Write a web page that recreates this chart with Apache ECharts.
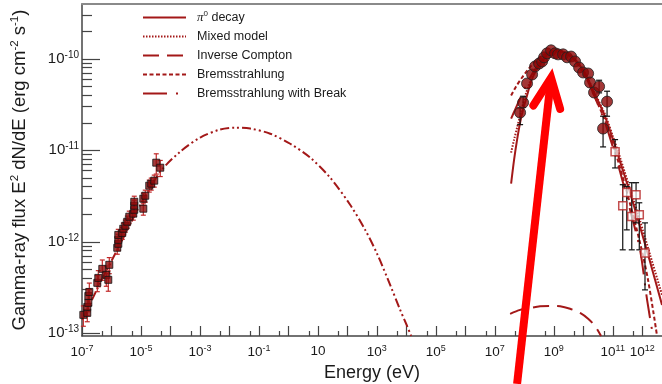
<!DOCTYPE html>
<html>
<head>
<meta charset="utf-8">
<script src="https://cdn.jsdelivr.net/npm/echarts@6/dist/echarts.min.js"></script>
<style>
  html, body { margin: 0; padding: 0; background: #fff; }
  #chart { width: 662px; height: 384px; }
</style>
</head>
<body>
<div id="chart"></div>
<script>
// ---- Spectral energy distribution: energies in eV, E^2 dN/dE in erg cm^-2 s^-1 ----

// Low-energy (radio / optical) data points, red squares
const optE = [1.11e-7, 1.51e-7, 1.51e-7, 1.64e-7, 1.64e-7, 1.77e-7, 3.30e-7, 3.57e-7, 4.88e-7, 6.67e-7,
              7.79e-7, 8.42e-7, 1.57e-6, 1.70e-6, 1.70e-6, 1.70e-6, 2.32e-6, 2.51e-6, 2.94e-6, 3.43e-6,
              4.01e-6, 5.48e-6, 5.93e-6, 5.93e-6, 5.93e-6, 1.20e-5, 1.20e-5, 1.40e-5, 1.91e-5, 2.23e-5,
              2.82e-5, 3.30e-5, 4.51e-5];
const optF = [1.59e-13, 1.67e-13, 1.94e-13, 2.15e-13, 2.56e-13, 2.83e-13, 3.56e-13, 4.03e-13, 5.06e-13, 4.35e-13,
              3.84e-13, 5.60e-13, 8.60e-13, 9.51e-13, 1.05e-12, 1.19e-12, 1.25e-12, 1.39e-12, 1.50e-12, 1.66e-12,
              1.88e-12, 2.03e-12, 2.24e-12, 2.48e-12, 2.74e-12, 2.30e-12, 2.96e-12, 3.19e-12, 4.11e-12, 4.32e-12,
              4.66e-12, 7.33e-12, 6.46e-12];
const optErr = [0.25, 0.2, 0.2, 0.2, 0.2, 0.25, 0.2, 0.2, 0.25, 0.25,
                0.25, 0.2, 0.15, 0.15, 0.15, 0.15, 0.15, 0.15, 0.15, 0.15,
                0.15, 0.15, 0.15, 0.15, 0.15, 0.15, 0.15, 0.15, 0.15, 0.15,
                0.15, 0.25, 0.2];

// GeV data points, filled circles
const latE = [7.21e7, 9.10e7, 1.24e8, 1.84e8, 2.32e8, 3.18e8, 4.01e8, 4.69e8, 5.93e8, 8.09e8,
              1.11e9, 1.40e9, 2.07e9, 2.82e9, 3.86e9, 5.27e9, 7.21e9, 9.84e9, 1.46e10, 1.70e10,
              2.32e10, 3.44e10, 4.69e10, 6.41e10];
const latF = [2.59e-11, 3.33e-11, 5.38e-11, 6.75e-11, 8.26e-11, 8.90e-11, 9.37e-11, 1.04e-10, 1.15e-10, 1.24e-10,
              1.15e-10, 1.12e-10, 1.12e-10, 1.04e-10, 1.06e-10, 9.37e-11, 8.05e-11, 7.10e-11, 6.92e-11, 5.51e-11,
              4.29e-11, 4.99e-11, 1.73e-11, 3.41e-11];
const latLo = [1.91e-11, 2.94e-11, null, null, null, null, null, null, null, null,
               null, null, null, null, null, null, null, null, null, null,
               null, 4.25e-11, 1.09e-11, 2.36e-11];
const latHi = [2.90e-11, 3.90e-11, null, null, null, null, null, null, null, null,
               null, null, null, null, null, null, null, null, null, null,
               null, 5.84e-11, 2.36e-11, 4.43e-11];

// TeV data points, open squares
const tevE  = [1.20e11, 2.18e11, 2.99e11, 4.41e11, 6.17e11, 7.94e11, 1.24e12];
const tevF  = [9.68e-12, 2.48e-12, 3.47e-12, 1.89e-12, 3.27e-12, 1.98e-12, 7.52e-13];
const tevLo = [6.42e-12, 8.17e-13, 1.35e-12, 8.17e-13, 1.61e-12, 8.17e-13, 2.98e-13];
const tevHi = [1.31e-11, 4.21e-12, 4.03e-12, 4.43e-12, 4.43e-12, 2.67e-12, 1.61e-12];

// Model curves
const synchE = [1.02e-7, 4.17e-7, 1.99e-6, 9.46e-6, 4.51e-5, 2.15e-4, 1.02e-3, 4.88e-3, 1.57e-2, 5.07e-2,
                0.242, 1.15, 5.48, 26.1, 124, 401, 1.02e3, 2.82e3, 6.17e3, 1.06e4, 1.46e4];
const synchF = [1.40e-13, 3.56e-13, 9.51e-13, 2.54e-12, 5.84e-12, 9.68e-12, 1.38e-11, 1.69e-11, 1.77e-11, 1.73e-11,
                1.52e-11, 1.18e-11, 8.32e-12, 5.02e-12, 2.54e-12, 1.35e-12, 7.39e-13, 3.38e-13, 1.80e-13, 1.20e-13, 9.34e-14];

const pionE = [3.57e7, 4.51e7, 5.70e7, 7.21e7, 9.10e7, 1.24e8, 1.70e8, 2.51e8, 5.07e8, 8.75e8,
               1.64e9, 3.05e9, 5.27e9, 1.15e10, 2.51e10, 5.48e10, 1.02e11, 1.77e11, 3.85e11, 8.41e11, 1.84e12, 4.69e12];
const pionF = [4.32e-12, 7.91e-12, 1.31e-11, 2.01e-11, 2.79e-11, 3.97e-11, 5.66e-11, 7.46e-11, 1.04e-10, 1.21e-10,
               1.21e-10, 1.12e-10, 9.85e-11, 6.92e-11, 4.07e-11, 2.34e-11, 1.31e-11, 7.52e-12, 3.44e-12, 1.46e-12, 6.04e-13, 2.04e-13];

const mixedE = [3.57e7, 4.51e7, 5.70e7, 7.80e7, 1.06e8, 1.57e8, 2.51e8, 5.07e8, 8.75e8,
                1.64e9, 3.05e9, 5.27e9, 1.15e10, 2.51e10, 5.48e10, 1.02e11, 1.77e11, 3.85e11, 8.41e11, 1.84e12, 4.69e12];
const mixedF = [9.44e-12, 1.31e-11, 1.77e-11, 2.65e-11, 3.87e-11, 5.66e-11, 7.65e-11, 1.04e-10, 1.21e-10,
                1.21e-10, 1.12e-10, 9.85e-11, 6.92e-11, 4.18e-11, 2.46e-11, 1.41e-11, 8.32e-12, 3.80e-12, 1.70e-12, 7.21e-13, 2.63e-13];

const icE = [3.30e7, 7.21e7, 1.57e8, 3.43e8, 7.50e8, 1.64e9, 3.57e9, 7.80e9, 1.46e10, 2.51e10, 4.01e10];
const icF = [1.63e-13, 1.80e-13, 1.89e-13, 1.97e-13, 1.99e-13, 1.97e-13, 1.85e-13, 1.67e-13, 1.44e-13, 1.20e-13, 9.34e-14];

const bremE = [3.57e7, 5.27e7, 8.41e7, 1.35e8, 2.32e8, 4.34e8, 8.75e8, 1.64e9, 3.05e9, 5.27e9,
               1.15e10, 2.51e10, 5.48e10, 1.02e11, 1.77e11, 3.85e11, 8.41e11, 1.57e12, 3.18e12];
const bremF = [3.97e-11, 4.99e-11, 6.25e-11, 7.65e-11, 9.37e-11, 1.09e-10, 1.21e-10, 1.21e-10, 1.12e-10, 9.60e-11,
               6.58e-11, 3.78e-11, 2.11e-11, 1.15e-11, 6.46e-12, 2.61e-12, 9.75e-13, 3.84e-13, 9.34e-14];

const bremBreakE = [3.57e7, 4.88e7, 6.67e7, 9.84e7, 1.57e8, 2.72e8, 5.07e8, 8.75e8, 1.64e9, 3.05e9,
                    5.27e9, 1.15e10, 2.51e10, 5.48e10, 1.02e11, 1.77e11, 3.85e11, 8.41e11, 1.46e12, 2.32e12];
const bremBreakF = [2.22e-11, 2.79e-11, 3.50e-11, 4.62e-11, 6.25e-11, 8.26e-11, 1.04e-10, 1.21e-10, 1.21e-10, 1.12e-10,
                    9.60e-11, 6.58e-11, 3.78e-11, 2.01e-11, 1.07e-11, 5.84e-12, 2.24e-12, 8.17e-13, 2.32e-13, 9.34e-14];

// Axis tick labels (decade exponents)
const xLabelExps = [-7, -5, -3, -1, 1, 3, 5, 7, 9, 11, 12];
const yLabelExps = [-13, -12, -11, -10];

// Annotation arrow pointing at the GeV peak (energy, flux)
const arrowTail  = [5.70e7, 2.8e-14];
const arrowTip   = [8.09e8, 6.21e-11];
const arrowWings = [[2.03e8, 3.09e-11], [1.64e9, 2.84e-11]];

// ---- chart ----
const L = Math.log10;
const X_MIN = -7, X_MAX = 12.67, Y_MIN = -13.03, Y_MAX = -9.40;
const RED = '#a31818';
const FONT = 'Liberation Sans, Arial, sans-serif';

const pts = (E, F) => E.map((e, i) => [L(e), L(F[i])]);
const bars = (E, lo, hi) => E.map((e, i) => lo[i] == null ? null : [L(e), L(lo[i]), L(hi[i])]).filter(Boolean);

const xMajor = []; for (let n = -7; n <= 12; n++) xMajor.push(n);
const xMinor = []; for (let n = -7; n <= 12; n++) { const v = n + L(5); if (v < X_MAX) xMinor.push(v); }
const yMinor = []; for (let n = -13; n <= -10; n++) for (let k = 2; k <= 9; k++) { const v = n + L(k); if (v < Y_MAX - 0.005) yMinor.push(v); }

const supLabel = (base, sup) => ({
  b: { fontSize: base, fontFamily: FONT, color: '#1a1a1a' },
  s: { fontSize: sup, fontFamily: FONT, color: '#1a1a1a', padding: [0, 0, Math.round(base * 0.55), 0] }
});
const expText = n => n === 1 ? '{b|10}' : '{b|10}{s|' + n + '}';

function errorBars(color, cap) {
  return function (params, api) {
    const x = api.value(0);
    const p1 = api.coord([x, api.value(1)]);
    const p2 = api.coord([x, api.value(2)]);
    const st = { stroke: color, lineWidth: 1.2 };
    return {
      type: 'group',
      children: [
        { type: 'line', shape: { x1: p1[0], y1: p1[1], x2: p2[0], y2: p2[1] }, style: st },
        { type: 'line', shape: { x1: p1[0] - cap, y1: p1[1], x2: p1[0] + cap, y2: p1[1] }, style: st },
        { type: 'line', shape: { x1: p2[0] - cap, y1: p2[1], x2: p2[0] + cap, y2: p2[1] }, style: st }
      ]
    };
  };
}

const curve = (name, E, F, type, extra) => Object.assign({
  name, type: 'line', data: pts(E, F), symbol: 'none', smooth: 0.3, clip: true,
  lineStyle: { color: RED, width: 2, type: type }, itemStyle: { color: RED }, z: 3, silent: true
}, extra || {});

const hiddenAxisLine = { show: false, onZero: false };

const chart = echarts.init(document.getElementById('chart'), null, { renderer: 'canvas' });

const option = {
  animation: false,
  backgroundColor: '#fff',
  grid: { left: 82, right: 0, top: 4, bottom: 48, containLabel: false, outerBoundsMode: 'none' },
  legend: {
    orient: 'vertical', left: 142, top: 10, padding: 0,
    itemWidth: 43, itemHeight: 14, itemGap: 6,
    itemStyle: { opacity: 0 },
    data: ['pi0', 'Mixed model', 'Inverse Compton', 'Bremsstrahlung', 'Bremsstrahlung with Break'],
    formatter: name => name === 'pi0' ? '{p|\u03c0}{z|0}{t| decay}' : '{t|' + name + '}',
    textStyle: {
      color: '#1a1a1a', fontFamily: FONT, fontSize: 12.5, padding: [0, 0, 0, 6],
      rich: {
        t: { fontFamily: FONT, fontSize: 12.5, color: '#1a1a1a' },
        p: { fontFamily: 'Liberation Serif, serif', fontStyle: 'italic', fontSize: 13, color: '#1a1a1a' },
        z: { fontFamily: FONT, fontSize: 8, color: '#1a1a1a', padding: [0, 0, 7, 0] }
      }
    },
    selectedMode: false
  },
  xAxis: [
    {
      type: 'value', min: X_MIN, max: X_MAX, position: 'bottom',
      axisLine: { show: true, onZero: false, lineStyle: { color: '#444', width: 1.5 } },
      axisTick: { show: true, inside: true, length: 10, customValues: xMajor, lineStyle: { color: '#444', width: 1.2 } },
      axisLabel: { show: true, customValues: xLabelExps, margin: 8, formatter: v => expText(Math.round(v)), rich: supLabel(13.5, 9) },
      splitLine: { show: false },
      name: 'Energy (eV)', nameLocation: 'middle', nameGap: 27,
      nameTextStyle: { fontFamily: FONT, fontSize: 18, color: '#1a1a1a' }
    },
    {
      type: 'value', min: X_MIN, max: X_MAX, position: 'bottom',
      axisLine: hiddenAxisLine,
      axisTick: { show: true, inside: true, length: 5, customValues: xMinor, lineStyle: { color: '#444', width: 1.2 } },
      axisLabel: { show: false }, splitLine: { show: false }
    },
    {
      type: 'value', min: X_MIN, max: X_MAX, position: 'top',
      axisLine: { show: true, onZero: false, lineStyle: { color: '#8a8a8a', width: 2 } },
      axisTick: { show: false }, axisLabel: { show: false }, splitLine: { show: false }
    }
  ],
  yAxis: [
    {
      type: 'value', min: Y_MIN, max: Y_MAX, position: 'left',
      axisLine: { show: true, onZero: false, lineStyle: { color: '#444', width: 1.5 } },
      axisTick: { show: true, inside: true, length: 18, customValues: yLabelExps, lineStyle: { color: '#444', width: 1.2 } },
      axisLabel: { show: true, customValues: yLabelExps, margin: 3, formatter: v => expText(Math.round(v)), rich: supLabel(15, 10) },
      splitLine: { show: false },
      name: '{t|Gamma-ray flux E}{s|2}{t| dN/dE (erg cm}{s|-2}{t| s}{s|-1}{t|)}',
      nameLocation: 'middle', nameGap: 52, nameRotate: 90,
      nameTextStyle: {
        rich: {
          t: { fontFamily: FONT, fontSize: 18.5, color: '#1a1a1a' },
          s: { fontFamily: FONT, fontSize: 11.5, color: '#1a1a1a', padding: [0, 0, 9, 0] }
        }
      }
    },
    {
      type: 'value', min: Y_MIN, max: Y_MAX, position: 'left',
      axisLine: hiddenAxisLine,
      axisTick: { show: true, inside: true, length: 10, customValues: yMinor, lineStyle: { color: '#444', width: 1.2 } },
      axisLabel: { show: false }, splitLine: { show: false }
    }
  ],
  series: [
    curve('Synchrotron', synchE, synchF, [9, 3, 2, 3, 2, 3]),
    curve('pi0', pionE, pionF, 'solid'),
    curve('Mixed model', mixedE, mixedF, [1.5, 1.5]),
    curve('Inverse Compton', icE, icF, [16, 8]),
    curve('Bremsstrahlung', bremE, bremF, [4, 2.5]),
    curve('Bremsstrahlung with Break', bremBreakE, bremBreakF, [24, 9, 2, 9]),
    {
      name: 'optErr', type: 'custom', renderItem: errorBars('#c02828', 2.5), z: 4, silent: true,
      data: optE.map((e, i) => [L(e), L(optF[i] * (1 - optErr[i])), L(optF[i] * (1 + optErr[i]))])
    },
    {
      name: 'Optical', type: 'scatter', data: pts(optE, optF), symbol: 'rect', symbolSize: 7, z: 5, silent: true,
      itemStyle: { color: '#8c0b0b', borderColor: '#111', borderWidth: 1 }
    },
    {
      name: 'latErr', type: 'custom', renderItem: errorBars('#111', 3), z: 4, silent: true,
      data: bars(latE, latLo, latHi)
    },
    {
      name: 'GeV', type: 'scatter', data: pts(latE, latF), symbol: 'circle', symbolSize: 11, z: 6, silent: true,
      itemStyle: { color: '#8c0505', borderColor: '#222', borderWidth: 1 }
    },
    {
      name: 'tevErr', type: 'custom', renderItem: errorBars('#111', 3), z: 4, silent: true,
      data: bars(tevE, tevLo, tevHi)
    },
    {
      name: 'TeV', type: 'scatter', data: pts(tevE, tevF), symbol: 'rect', symbolSize: 8, z: 6, silent: true,
      itemStyle: { color: 'rgba(255,255,255,0.85)', borderColor: '#b42222', borderWidth: 1.5 }
    }
  ]
};

chart.setOption(option);

// Red annotation arrow placed through the data coordinate system
(function drawArrow() {
  const p = v => chart.convertToPixel({ xAxisIndex: 0, yAxisIndex: 0 }, [L(v[0]), L(v[1])]);
  const tail = p(arrowTail), tip = p(arrowTip), w1 = p(arrowWings[0]), w2 = p(arrowWings[1]);
  chart.setOption({
    graphic: [
      { type: 'polyline', z: 100, shape: { points: [tail, tip] },
        style: { stroke: '#ff0000', lineWidth: 8, lineCap: 'butt', fill: null } },
      { type: 'polyline', z: 100, shape: { points: [w1, tip, w2] },
        style: { stroke: '#ff0000', lineWidth: 8, lineCap: 'round', lineJoin: 'miter', fill: null } }
    ]
  });
})();
</script>
</body>
</html>
